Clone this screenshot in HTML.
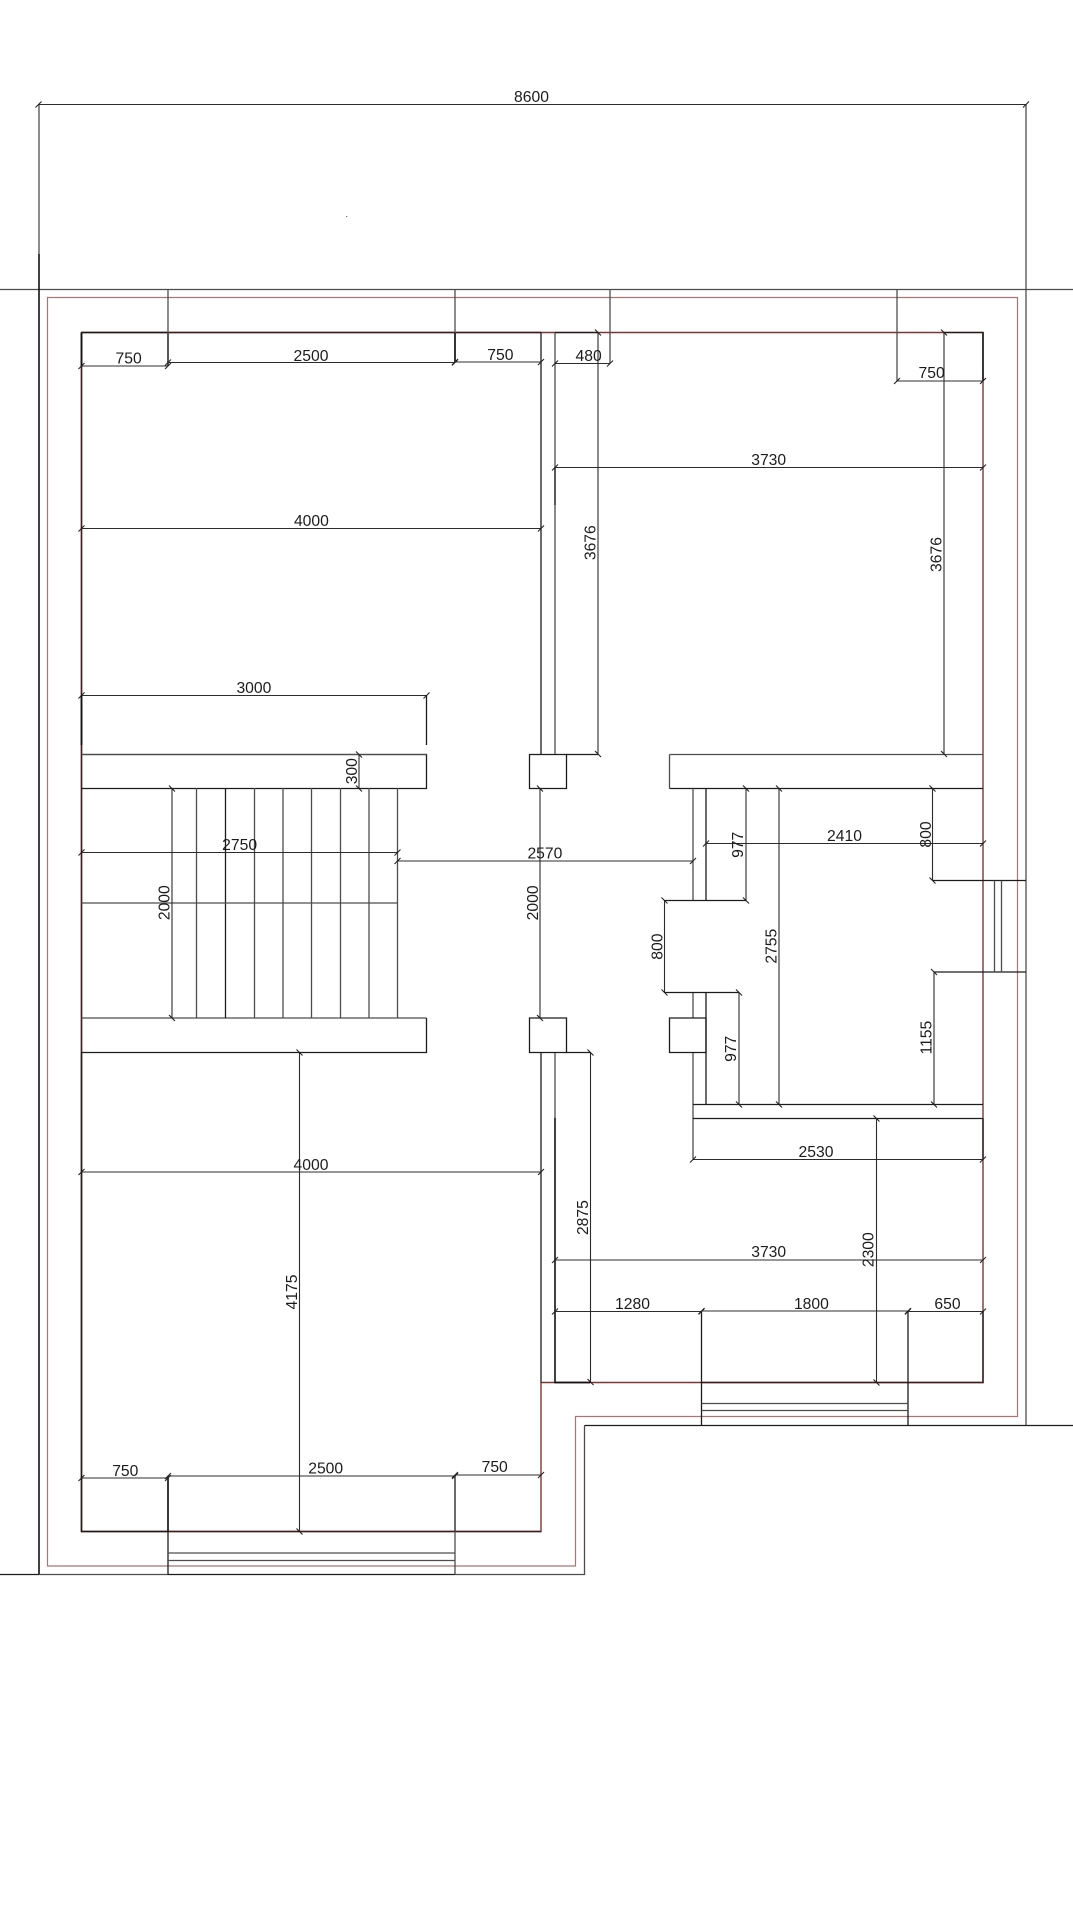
<!DOCTYPE html>
<html><head><meta charset="utf-8"><style>
html,body{margin:0;padding:0;background:#fff}
svg{display:block}
text{font-family:"Liberation Sans",sans-serif;font-size:15.7px;fill:#1c1c1c;text-anchor:middle}
.k{fill:none;stroke:#1c1c1c;stroke-width:1.3}
.g{fill:none;stroke:#4d4d4d;stroke-width:1.3}
.b{fill:none;stroke:#111;stroke-width:1.6}
.r{fill:none;stroke:#a87676;stroke-width:1.2}
.rd{fill:none;stroke:#7d3636;stroke-width:1.4}
.rk{fill:none;stroke:#3c1e1e;stroke-width:1.5}
.d{fill:none;stroke:#2c2c2c;stroke-width:1.1;marker-start:url(#t);marker-end:url(#t)}
</style></head><body>
<svg width="1073" height="1908" viewBox="0 0 1073 1908" xmlns="http://www.w3.org/2000/svg">
<defs><marker id="t" markerUnits="userSpaceOnUse" orient="auto" markerWidth="12" markerHeight="12" refX="6" refY="6" viewBox="0 0 12 12"><path d="M3 9L9 3" stroke="#222" stroke-width="1.1" fill="none"/></marker></defs>

<!-- outer construction lines -->
<path class="g" d="M0 289.5H1073"/>
<path class="g" d="M39 104V254"/>
<path class="b" d="M39 254V1574.5"/>
<path class="g" d="M1026 104V1425"/>
<path class="k" d="M0 1574.5H39"/>
<path class="g" d="M39 1574.5H168"/>
<path class="k" d="M168 1574.5H455"/>
<path class="g" d="M455 1574.5H584.5V1425.5"/>
<path class="k" d="M584.5 1425.5H1073"/>
<circle cx="346.7" cy="216.5" r="0.6" fill="#555"/>

<!-- outer red contour -->
<path class="r" d="M47.5 297.5H1017.5V1416.5H575.5V1566H47.5Z"/>

<!-- inner red contour -->
<path class="rd" d="M81.5 332.5H983V1382.5H541V1531.5H81.5Z"/>
<path class="rk" d="M81.5 332.5V1531.5H541M81.5 332.5H541M983 332.5V381M983 1118.5V1159M983 1311V1382.5H701M555 1382.5H590"/>

<!-- wall black overlays -->
<path class="k" d="M81.5 332.5H168M81.5 332.5V366M81.5 695V745M81.5 1052V1531.5H168"/>
<path class="b" d="M81.5 332.5V366M168 332.5V366M81.5 695V745M168 1476V1531"/>
<path class="k" d="M944 332.5H983V381"/>
<path class="g" d="M168 289.5V365M455 289.5V362M610 289.5V363.5M897 289.5V381"/>
<path class="b" d="M455 333V362"/>
<path class="k" d="M541 332.5V754M541 1052.5V1382.5"/>
<path class="g" d="M555 332.5V754"/>
<path class="k" d="M555 332.5H598"/>
<path class="k" d="M555 467V505"/>
<path class="g" d="M555 1052.5V1118"/>
<path class="b" d="M555 1118V1382.5H590"/>

<!-- stair -->
<path class="k" d="M81.5 754.5H426.5V788.5H81.5"/>
<path class="g" d="M81.5 754.5H426.5"/>
<path class="k" d="M426.5 695V745"/>
<path class="g" d="M81.5 1018H426.5"/>
<path class="k" d="M426.5 1018V1052.5H81.5"/>
<path class="g" d="M196.5 788V1018M254.5 788V1018M283 788V1018M311.5 788V1018M340.5 788V1018M369 788V1018M397.5 788V1018"/>
<path class="k" d="M225.5 788V1018"/>
<path class="g" d="M81.5 903H397.5"/>

<!-- posts -->
<path class="k" d="M529.5 754.5H566.5V788.5H529.5Z"/>
<path class="k" d="M529.5 1018H566.5V1052.5H529.5Z"/>
<path class="k" d="M566 754.5H598M566 1052.5H590"/>

<!-- right room -->
<path class="g" d="M669.5 754.5H983"/>
<path class="g" d="M669.5 754.5V788.5"/>
<path class="k" d="M669.5 788.5H983"/>
<path class="g" d="M693 788.5V900.5M693 992.5V1018M693 1052.5V1159"/>
<path class="k" d="M706 788.5V900.5M706 992.5V1104.5"/>
<path class="k" d="M669.5 1018H706V1052.5H669.5Z"/>
<path class="k" d="M664.5 900.5H746M664.5 992.5H739"/>
<path class="k" d="M693 1104.5H983M693 1118.5H983"/>
<path class="k" d="M933 880.5H1026M934 972H1026"/>
<path class="g" d="M994.5 880.5V972M1001.5 880.5V972"/>

<!-- bottom right window -->
<path class="k" d="M701.5 1311V1425.5M908 1311V1425.5"/>
<path class="g" d="M701.5 1403.5H908M701.5 1410.5H908"/>

<!-- bottom left window -->
<path class="k" d="M168 1476V1574.5M455 1475V1531"/>
<path class="g" d="M455 1531V1574.5"/>
<path class="g" d="M168 1553H455M168 1560.5H455"/>

<!-- dimensions horizontal -->
<path class="d" d="M38.5 104.5H1026"/>
<path class="d" d="M81.5 366H168"/>
<path class="d" d="M168 362.5H455"/>
<path class="d" d="M455 362H541"/>
<path class="d" d="M555 363.5H610"/>
<path class="d" d="M897 381H983"/>
<path class="d" d="M555 467.5H983"/>
<path class="d" d="M81.5 528.5H541"/>
<path class="d" d="M81.5 695.5H426.5"/>
<path class="d" d="M81.5 852.5H397.5"/>
<path class="d" d="M397.5 861H693"/>
<path class="d" d="M706 843.5H983"/>
<path class="d" d="M81.5 1172H541"/>
<path class="d" d="M693 1159.5H983"/>
<path class="d" d="M555 1260H983"/>
<path class="d" d="M555 1311.5H701.5"/>
<path class="d" d="M701.5 1311H908"/>
<path class="d" d="M908 1311.5H983"/>
<path class="d" d="M81.5 1478H168"/>
<path class="d" d="M168 1476H455"/>
<path class="d" d="M455 1475H541"/>

<!-- dimensions vertical -->
<path class="d" d="M598 332.5V754"/>
<path class="d" d="M944 332.5V754"/>
<path class="d" d="M359 754.5V788.5"/>
<path class="d" d="M172 788.5V1018"/>
<path class="d" d="M540 788.5V1018"/>
<path class="d" d="M746 788.5V900.5"/>
<path class="d" d="M779 788.5V1104.5"/>
<path class="d" d="M932.5 788.5V880.5"/>
<path class="d" d="M664.5 900.5V992.5"/>
<path class="d" d="M739 992.5V1104.5"/>
<path class="d" d="M934 972V1104.5"/>
<path class="d" d="M876.5 1118.5V1382.5"/>
<path class="d" d="M590.5 1052.5V1382"/>
<path class="d" d="M299.5 1052.5V1531.5"/>

<!-- horizontal labels -->
<text x="531.5" y="102">8600</text>
<text x="128.6" y="363.5">750</text>
<text x="311" y="361">2500</text>
<text x="500.4" y="360.2">750</text>
<text x="588.6" y="361">480</text>
<text x="931.6" y="378">750</text>
<text x="768.7" y="465">3730</text>
<text x="311.4" y="526">4000</text>
<text x="253.9" y="693">3000</text>
<text x="239.6" y="850">2750</text>
<text x="544.9" y="858.5">2570</text>
<text x="844.5" y="841">2410</text>
<text x="816" y="1157">2530</text>
<text x="311" y="1170">4000</text>
<text x="768.7" y="1257">3730</text>
<text x="632.5" y="1309">1280</text>
<text x="811.4" y="1309">1800</text>
<text x="947.5" y="1309">650</text>
<text x="125.3" y="1476">750</text>
<text x="325.7" y="1473.5">2500</text>
<text x="494.7" y="1472">750</text>

<!-- rotated labels -->
<text transform="translate(595.5 542.7) rotate(-90)">3676</text>
<text transform="translate(941.5 554.5) rotate(-90)">3676</text>
<text transform="translate(357 771.2) rotate(-90)">300</text>
<text transform="translate(169.5 902.7) rotate(-90)">2000</text>
<text transform="translate(538 902.9) rotate(-90)">2000</text>
<text transform="translate(743.2 844.8) rotate(-90)">977</text>
<text transform="translate(931 834.5) rotate(-90)">800</text>
<text transform="translate(662.5 946.6) rotate(-90)">800</text>
<text transform="translate(776.5 946.2) rotate(-90)">2755</text>
<text transform="translate(735.9 1048.8) rotate(-90)">977</text>
<text transform="translate(931.3 1037.7) rotate(-90)">1155</text>
<text transform="translate(588 1217.6) rotate(-90)">2875</text>
<text transform="translate(873.3 1249.7) rotate(-90)">2300</text>
<text transform="translate(297.2 1292) rotate(-90)">4175</text>
</svg>
</body></html>
